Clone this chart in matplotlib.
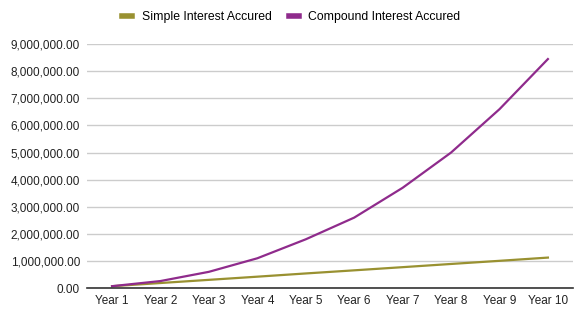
import matplotlib.pyplot as plt
from matplotlib.ticker import FuncFormatter

# Accrued interest per year
years = ["Year 1", "Year 2", "Year 3", "Year 4", "Year 5",
         "Year 6", "Year 7", "Year 8", "Year 9", "Year 10"]
simple_interest = [70000, 187000, 304000, 421000, 540000,
                   655000, 772000, 890000, 1006000, 1125000]
compound_interest = [70000, 260000, 600000, 1100000, 1800000,
                     2600000, 3700000, 5000000, 6600000, 8450000]

plt.rcParams["font.family"] = ["Liberation Sans", "DejaVu Sans"]

fig = plt.figure(figsize=(5.83, 3.27), dpi=100)
ax = fig.add_axes([0.149, 0.119, 0.834, 0.746])

x = range(len(years))
ax.plot(x, simple_interest, color="#999131", linewidth=1.6,
        label="Simple Interest Accured")
ax.plot(x, compound_interest, color="#8f2b8c", linewidth=1.6,
        label="Compound Interest Accured")

ax.set_xlim(-0.52, 9.52)
ax.set_ylim(0, 9000000)
ax.set_yticks(range(0, 9000001, 1000000))
ax.yaxis.set_major_formatter(FuncFormatter(lambda v, p: f"{v:,.2f}"))
ax.set_xticks(list(x))
ax.set_xticklabels(years)

ax.grid(axis="y", color="#cccccc", linewidth=1)
ax.set_axisbelow(True)
for side in ["top", "right", "left"]:
    ax.spines[side].set_visible(False)
ax.spines["bottom"].set_color("#333333")
ax.spines["bottom"].set_linewidth(1.2)
ax.tick_params(length=0, labelsize=8.5, colors="#222222", pad=5)

handles, labels = ax.get_legend_handles_labels()
leg = fig.legend(handles, labels, loc="center", bbox_to_anchor=(0.5, 0.948),
                 ncol=2, frameon=False, fontsize=8.8, handlelength=0.8,
                 handletextpad=0.8, columnspacing=1.4)
for line in leg.get_lines():
    line.set_linewidth(4)

fig.savefig("out.png", dpi=100)
